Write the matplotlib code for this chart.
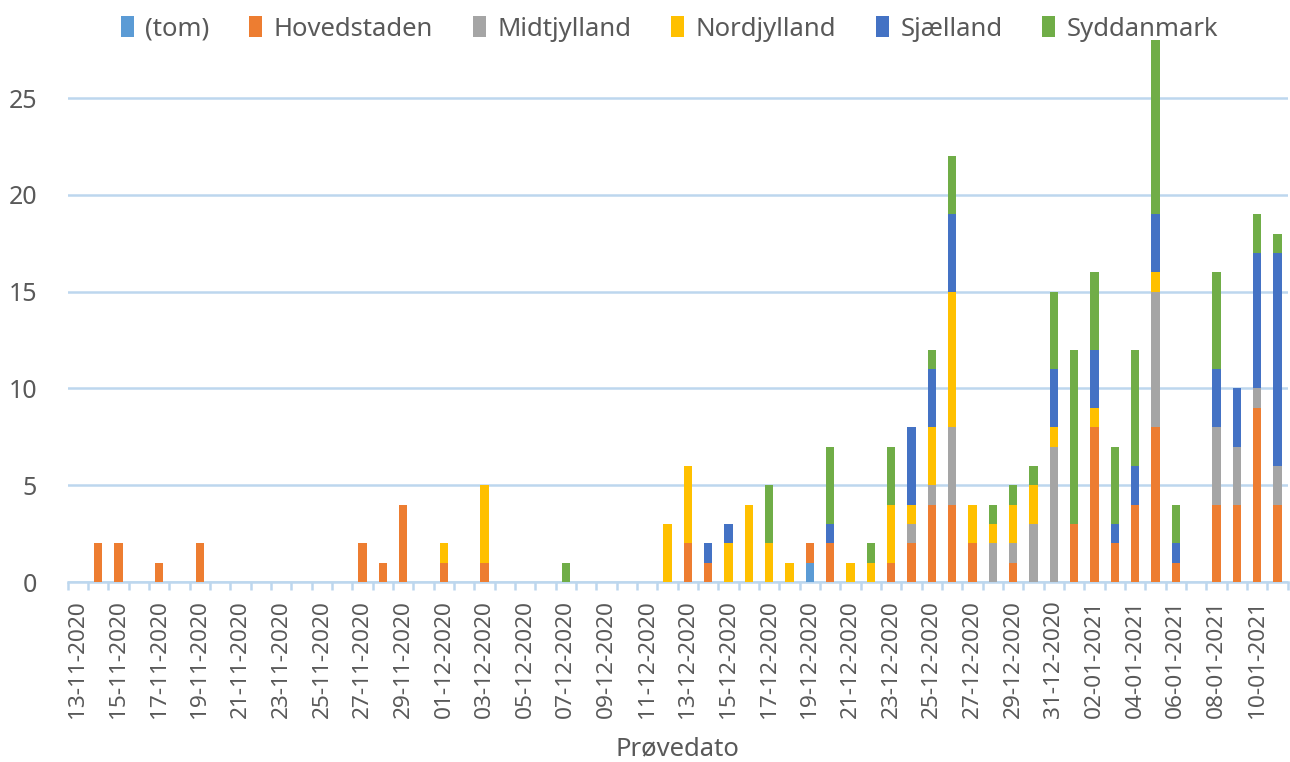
import matplotlib
matplotlib.use("Agg")
import matplotlib.pyplot as plt
import numpy as np
import pandas as pd

dates = pd.date_range("2020-11-13", "2021-01-11", freq="D").strftime("%d-%m-%Y").tolist()

tom = [0]*30 + [0,0,0,0,0,0,1,0,0,0] + [0]*20
hovedstaden = ([0,2,2,0,1,0,2,0,0,0] + [0,0,0,0,2,1,4,0,1,0] + [1,0,0,0,0,0,0,0,0,0] +
               [2,1,0,0,0,0,1,2,0,0] + [1,2,4,4,2,0,1,0,0,3] + [8,2,4,8,1,0,4,4,9,4])
midtjylland = [0]*40 + [0,1,1,4,0,2,1,3,7,0] + [0,0,0,7,0,0,4,3,1,2]
nordjylland = ([0]*10 + [0,0,0,0,0,0,0,0,1,0] + [4,0,0,0,0,0,0,0,0,3] +
               [4,0,2,4,2,1,0,0,1,1] + [3,1,3,7,2,1,2,2,1,0] + [1,0,0,1,0,0,0,0,0,0])
sjaelland = [0]*30 + [0,1,1,0,0,0,0,1,0,0] + [0,4,3,4,0,0,0,0,3,0] + [3,1,2,3,1,0,3,3,7,11]
syddanmark = ([0]*20 + [0,0,0,0,1,0,0,0,0,0] + [0,0,0,0,3,0,0,4,0,1] +
              [3,0,1,3,0,1,1,1,4,9] + [4,4,6,9,2,0,5,0,2,1])

series_names = ["(tom)", "Hovedstaden", "Midtjylland", "Nordjylland", "Sjælland", "Syddanmark"]
series_values = [tom, hovedstaden, midtjylland, nordjylland, sjaelland, syddanmark]
colors = ["#5B9BD5", "#ED7D31", "#A5A5A5", "#FFC000", "#4472C4", "#70AD47"]

plt.rcParams['font.family'] = ['Noto Sans', 'DejaVu Sans']
text_color = "#595959"
grid_color = "#BDD7EE"

fig = plt.figure(figsize=(12.9, 7.62), dpi=100)
ax = fig.add_axes([0.0525, 0.2362, 0.9457, 0.7188])

x = np.arange(len(dates))
bottom = np.zeros(len(dates))
for name, vals, c in zip(series_names, series_values, colors):
    v = np.array(vals, dtype=float)
    ax.bar(x, v, bottom=bottom, width=0.42, color=c, label=name, zorder=3)
    bottom += v

ax.set_xlim(-0.5, len(dates) - 0.5)
ax.set_ylim(0, 28.3)
ax.set_yticks([0, 5, 10, 15, 20, 25])
ax.yaxis.grid(True, color=grid_color, linewidth=1.8, zorder=0)
ax.tick_params(axis='y', length=0, pad=22, labelsize=18, labelcolor=text_color)

ax.set_xticks(x[::2])
ax.set_xticklabels(dates[::2], rotation=90, fontsize=16.3, color=text_color)
ax.set_xticks(np.arange(-0.5, len(dates), 1), minor=True)
ax.tick_params(axis='x', which='major', length=0, pad=13)
ax.tick_params(axis='x', which='minor', length=6, width=1.8, color=grid_color, direction='out')

for s in ["top", "right", "left"]:
    ax.spines[s].set_visible(False)
ax.spines["bottom"].set_color(grid_color)
ax.spines["bottom"].set_linewidth(1.8)

ax.set_xlabel("Prøvedato", fontsize=18.5, color=text_color, labelpad=13)

leg = fig.legend(loc="center", bbox_to_anchor=(0.519, 0.962), ncol=6, frameon=False,
                 fontsize=18.5, handlelength=0.5, handleheight=0.85, handletextpad=0.45,
                 columnspacing=1.55)
for t in leg.get_texts():
    t.set_color(text_color)

fig.savefig("out.png", dpi=100)
